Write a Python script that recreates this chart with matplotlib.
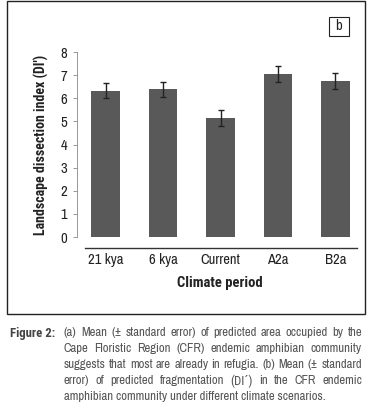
import matplotlib
matplotlib.use("Agg")
import matplotlib.pyplot as plt
from matplotlib import font_manager as fm
from matplotlib.patches import Rectangle
from matplotlib.lines import Line2D

fl = fm.fontManager.ttflist
names = {f.name for f in fl}
FONT = "DejaVu Sans"
for cand in ["Archivo Narrow", "Roboto Condensed", "PT Sans Narrow", "Fira Sans Condensed"]:
    if cand in names:
        FONT = cand
        break
BOLD = FONT
if not any(f.name == FONT and int(f.weight) >= 600 for f in fl if str(f.weight).isdigit()):
    for cand in ["Roboto Condensed", "PT Sans Narrow", "Fira Sans Condensed", "DejaVu Sans"]:
        if cand in names:
            BOLD = cand
            break
ACC = "Roboto Condensed" if "Roboto Condensed" in names else "DejaVu Sans"
plt.rcParams['font.family'] = [FONT, 'DejaVu Sans']

categories = ["21 kya", "6 kya", "Current", "A2a", "B2a"]
means = [6.33, 6.38, 5.15, 7.05, 6.75]
errors = [0.31, 0.33, 0.33, 0.33, 0.33]
yticks = [0, 1, 2, 3, 4, 5, 6, 7, 8]

W, H = 370, 408
fig = plt.figure(figsize=(W / 100, H / 100), dpi=100)

x0, x1 = 77, 364
ytop, ybot = 52, 237
ax = fig.add_axes([x0 / W, 1 - ybot / H, (x1 - x0) / W, (ybot - ytop) / H])
ax.bar(range(len(categories)), means, width=0.5, color="#595959",
       yerr=errors, error_kw=dict(ecolor="#222222", elinewidth=1, capsize=2.5, capthick=1))
ax.set_ylim(0, 8)
ax.set_xlim(-0.5, len(categories) - 0.5)
ax.set_yticks(yticks)
ax.tick_params(axis='y', labelsize=10.5, length=3, width=0.6, color="#888888", pad=4, labelcolor="#222222")
ax.set_xticks([])
for s in ["top", "right", "bottom"]:
    ax.spines[s].set_visible(False)
ax.spines["left"].set_color("#888888")
ax.spines["left"].set_linewidth(0.6)
ax.set_ylabel("Landscape dissection index (DI')", fontsize=10, fontweight="bold",
              family=[BOLD, 'DejaVu Sans'], labelpad=8, color="#222222")

fig.add_artist(Line2D([85 / W, 357 / W], [1 - 248 / H, 1 - 248 / H], color="#333333", lw=1))
for i, c in enumerate(categories):
    xd = ax.transData.transform((i, 0))[0]
    fig.text(xd / W, 1 - 260 / H, c, ha="center", va="center", fontsize=10.5, color="#222222")
fig.text(220 / W, 1 - 283 / H, "Climate period", ha="center", va="center",
         fontsize=10.5, fontweight="bold", family=[BOLD, 'DejaVu Sans'], color="#222222")

fig.add_artist(Rectangle((7 / W, 1 - 314 / H), (365 - 7) / W, (314 - 1) / H,
                         fill=False, edgecolor="#222222", lw=1, transform=fig.transFigure))
fig.add_artist(Rectangle((329 / W, 1 - 36 / H), 20 / W, 19 / H,
                         fill=False, edgecolor="#222222", lw=0.8, transform=fig.transFigure))
fig.text(339 / W, 1 - 26.5 / H, "b", ha="center", va="center", fontsize=10.5, color="#222222")

cap_lines = [
    "(a) Mean (\u00b1 standard error) of predicted area occupied by the",
    "Cape Floristic Region (CFR) endemic amphibian community",
    "suggests that most are already in refugia. (b) Mean (\u00b1 standard",
    "error) of predicted fragmentation (DI\u00b4) in the CFR endemic",
    "amphibian community under different climate scenarios.",
]
cap_y = [333, 349, 365, 381, 397]
cap_color = "#555555"
left, right = 64, 362

fig.canvas.draw()
r = fig.canvas.get_renderer()
probe = fig.text(0, 0, cap_lines[2], fontsize=9)
wline = probe.get_window_extent(r).width
probe.remove()
CAP_FS = min(10.5, 9 * (right - left - 2) / wline)

fig.text(10 / W, 1 - cap_y[0] / H, "Figure 2:", ha="left", va="center",
         fontsize=CAP_FS, fontweight="bold", family=[BOLD, 'DejaVu Sans'], color="#444444")

for k, (line, y) in enumerate(zip(cap_lines, cap_y)):
    words = line.split(" ")
    if k == len(cap_lines) - 1:
        fig.text(left / W, 1 - y / H, line, ha="left", va="center", fontsize=CAP_FS, color=cap_color)
        continue
    ts = []
    for w in words:
        fam = [ACC, 'DejaVu Sans'] if "\u00b4" in w else [FONT, 'DejaVu Sans']
        ts.append(fig.text(0, 1 - y / H, w, ha="left", va="center", fontsize=CAP_FS,
                           color=cap_color, family=fam))
    widths = [t.get_window_extent(r).width for t in ts]
    gap = (right - left - sum(widths)) / (len(words) - 1)
    x = left
    for t, w in zip(ts, widths):
        t.set_x(x / W)
        x += w + gap

fig.savefig("out.png", dpi=100)
